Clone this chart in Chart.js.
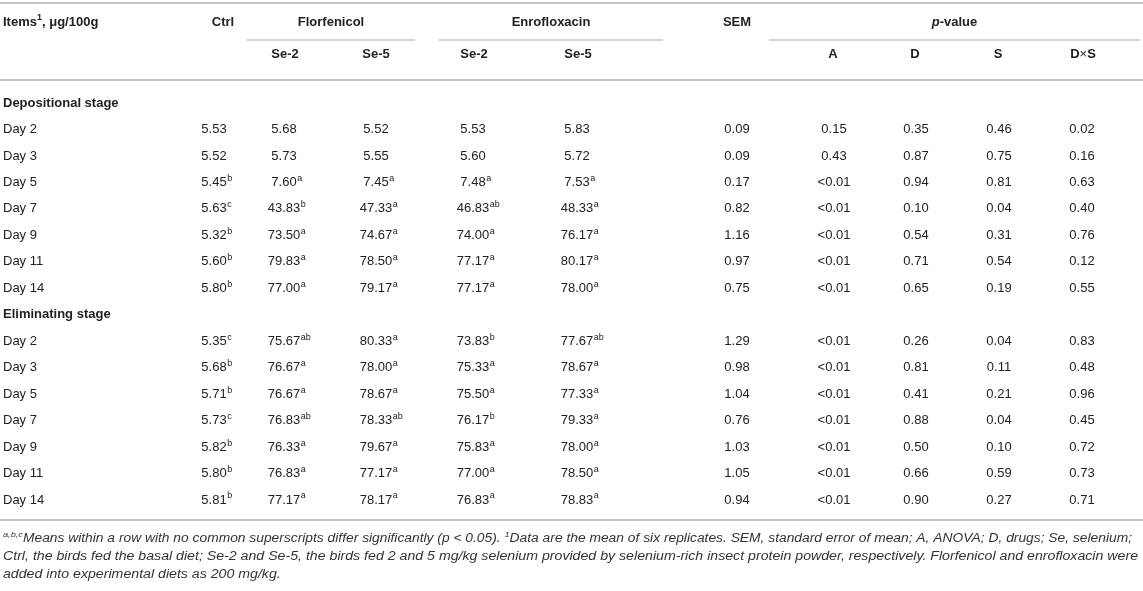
<!DOCTYPE html>
<html>
<head>
<meta charset="utf-8">
<script src="https://cdn.jsdelivr.net/npm/chart.js@4.4.0/dist/chart.umd.min.js"></script>
<style>
  html, body { margin: 0; padding: 0; background: #fff; }
  #wrap { width: 1143px; height: 591px; }
</style>
</head>
<body>
<div id="wrap"><canvas id="tableChart" width="1143" height="591"></canvas></div>
<script>
// row labels (stage rows have no values)
const rowLabels = ['Depositional stage', 'Day 2', 'Day 3', 'Day 5', 'Day 7', 'Day 9', 'Day 11', 'Day 14',
                   'Eliminating stage', 'Day 2', 'Day 3', 'Day 5', 'Day 7', 'Day 9', 'Day 11', 'Day 14'];
const stageRows = [0, 8];

// values, letter suffix = superscript
const ctrl    = ['', '5.53', '5.52', '5.45b', '5.63c', '5.32b', '5.60b', '5.80b',
                 '', '5.35c', '5.68b', '5.71b', '5.73c', '5.82b', '5.80b', '5.81b'];
const florSe2 = ['', '5.68', '5.73', '7.60a', '43.83b', '73.50a', '79.83a', '77.00a',
                 '', '75.67ab', '76.67a', '76.67a', '76.83ab', '76.33a', '76.83a', '77.17a'];
const florSe5 = ['', '5.52', '5.55', '7.45a', '47.33a', '74.67a', '78.50a', '79.17a',
                 '', '80.33a', '78.00a', '78.67a', '78.33ab', '79.67a', '77.17a', '78.17a'];
const enroSe2 = ['', '5.53', '5.60', '7.48a', '46.83ab', '74.00a', '77.17a', '77.17a',
                 '', '73.83b', '75.33a', '75.50a', '76.17b', '75.83a', '77.00a', '76.83a'];
const enroSe5 = ['', '5.83', '5.72', '7.53a', '48.33a', '76.17a', '80.17a', '78.00a',
                 '', '77.67ab', '78.67a', '77.33a', '79.33a', '78.00a', '78.50a', '78.83a'];
const sem     = ['', '0.09', '0.09', '0.17', '0.82', '1.16', '0.97', '0.75',
                 '', '1.29', '0.98', '1.04', '0.76', '1.03', '1.05', '0.94'];
const pA      = ['', '0.15', '0.43', '<0.01', '<0.01', '<0.01', '<0.01', '<0.01',
                 '', '<0.01', '<0.01', '<0.01', '<0.01', '<0.01', '<0.01', '<0.01'];
const pD      = ['', '0.35', '0.87', '0.94', '0.10', '0.54', '0.71', '0.65',
                 '', '0.26', '0.81', '0.41', '0.88', '0.50', '0.66', '0.90'];
const pS      = ['', '0.46', '0.75', '0.81', '0.04', '0.31', '0.54', '0.19',
                 '', '0.04', '0.11', '0.21', '0.04', '0.10', '0.59', '0.27'];
const pDxS    = ['', '0.02', '0.16', '0.63', '0.40', '0.76', '0.12', '0.55',
                 '', '0.83', '0.48', '0.96', '0.45', '0.72', '0.73', '0.71'];

const columns = [ctrl, florSe2, florSe5, enroSe2, enroSe5, sem, pA, pD, pS, pDxS];
const subHeaders = ['', 'Se-2', 'Se-5', 'Se-2', 'Se-5', '', 'A', 'D', 'S', 'D×S'];

const footnote = [
  [{ t: 'a,b,c', sup: true }, { t: 'Means within a row with no common superscripts differ significantly (p < 0.05). ' },
   { t: '1', sup: true }, { t: 'Data are the mean of six replicates. SEM, standard error of mean; A, ANOVA; D, drugs; Se, selenium;' }],
  [{ t: 'Ctrl, the birds fed the basal diet; Se-2 and Se-5, the birds fed 2 and 5 mg/kg selenium provided by selenium-rich insect protein powder, respectively. Florfenicol and enrofloxacin were' }],
  [{ t: 'added into experimental diets as 200 mg/kg.' }]
];

// layout (x-scale units = px)
const colX = [214, 284, 376, 473, 577, 737, 834, 916, 999, 1082];
const headX = [223, 285, 376, 474, 578, 737, 833, 915, 998, 1083];
const groups = [
  { label: 'Florfenicol', from: 247, to: 415 },
  { label: 'Enrofloxacin', from: 439, to: 663 },
  { label: 'p-value', from: 769, to: 1140, italicFirst: true }
];
const footWidths = [1132, 1138, null];
const FONT = '"Liberation Sans", Arial, Helvetica, sans-serif';
const TEXT = '#222';
const RULE = '#c4c4c4';

function font(size, bold, italic) {
  return (italic ? 'italic ' : '') + (bold ? 'bold ' : '') + size + 'px ' + FONT;
}

// draws a run of parts starting at x (left aligned), returns width
function drawParts(ctx, parts, x, y, size, bold, italic, measureOnly) {
  let cx = x;
  parts.forEach(p => {
    const s = p.sup ? Math.round(size * 0.68) : size;
    ctx.font = font(s, p.bold !== undefined ? p.bold : bold, p.italic !== undefined ? p.italic : italic);
    if (!measureOnly) ctx.fillText(p.t, cx, p.sup ? y - size * 0.32 : y);
    cx += ctx.measureText(p.t).width;
  });
  return cx - x;
}

function drawCentered(ctx, parts, x, y, size, bold, italic) {
  const w = drawParts(ctx, parts, 0, 0, size, bold, italic, true);
  drawParts(ctx, parts, x - w / 2, y, size, bold, italic, false);
}

function hLine(ctx, x1, x2, y, w) {
  ctx.strokeStyle = RULE;
  ctx.lineWidth = w;
  ctx.beginPath();
  ctx.moveTo(x1, y);
  ctx.lineTo(x2, y);
  ctx.stroke();
}

const tablePlugin = {
  id: 'tablePlugin',
  afterDraw(chart) {
    const ctx = chart.ctx;
    const xs = chart.scales.x, ys = chart.scales.y;
    const X = v => xs.getPixelForValue(v);
    ctx.save();
    ctx.fillStyle = TEXT;
    ctx.textBaseline = 'middle';
    ctx.textAlign = 'left';

    // rules
    hLine(ctx, X(0), X(1143), 3, 2);
    hLine(ctx, X(0), X(1143), 80, 2);
    hLine(ctx, X(0), X(1143), 520, 2);
    groups.forEach(g => hLine(ctx, X(g.from), X(g.to), 40, 1.5));

    // header row 1
    const h1 = 22, h2 = 54;
    drawParts(ctx, [{ t: 'Items' }, { t: '1', sup: true }, { t: ', μg/100g' }], X(3), h1, 13, true, false);
    drawCentered(ctx, [{ t: 'Ctrl' }], X(headX[0]), h1, 13, true, false);
    drawCentered(ctx, [{ t: 'SEM' }], X(headX[5]), h1, 13, true, false);
    groups.forEach(g => {
      const parts = g.italicFirst ? [{ t: 'p', italic: true }, { t: '-value' }] : [{ t: g.label }];
      drawCentered(ctx, parts, X((g.from + g.to) / 2), h1, 13, true, false);
    });
    // header row 2
    subHeaders.forEach((s, j) => {
      if (!s) return;
      if (s === 'D×S') {
        drawCentered(ctx, [{ t: 'D' }, { t: '×', bold: false }, { t: 'S' }], X(headX[j]), h2, 13, true, false);
      } else {
        drawCentered(ctx, [{ t: s }], X(headX[j]), h2, 13, true, false);
      }
    });

    // body
    rowLabels.forEach((lab, i) => {
      const y = ys.getPixelForValue(i);
      const isStage = stageRows.includes(i);
      ctx.font = font(13, isStage, false);
      ctx.fillStyle = TEXT;
      ctx.textAlign = 'left';
      ctx.fillText(lab, X(3), y);
      if (isStage) return;
      columns.forEach((col, j) => {
        const m = col[i].match(/^(.*?)([a-c]*)$/);
        const num = m[1], sup = m[2];
        ctx.font = font(13, false, false);
        const w = ctx.measureText(num).width;
        const left = X(colX[j]) - w / 2;
        ctx.fillText(num, left, y);
        if (sup) {
          ctx.font = font(9, false, false);
          ctx.fillText(sup, left + w + 0.5, y - 4);
        }
      });
    });

    // footnote, each full line fitted to the table width
    const fy = [539, 557, 575];
    ctx.fillStyle = '#333';
    let sx = 1;
    footnote.forEach((line, k) => {
      if (footWidths[k]) {
        const natural = drawParts(ctx, line, 0, 0, 12, false, true, true);
        sx = (X(footWidths[k]) - X(3)) / natural;
      }
      ctx.save();
      ctx.translate(X(3), fy[k]);
      ctx.scale(sx, 1);
      drawParts(ctx, line, 0, 0, 12, false, true, false);
      ctx.restore();
    });
    ctx.restore();
  }
};

new Chart(document.getElementById('tableChart'), {
  type: 'scatter',
  data: { labels: rowLabels, datasets: [] },
  options: {
    responsive: false,
    animation: false,
    layout: { padding: { left: 0, right: 0, top: 103, bottom: 91 } },
    plugins: { legend: { display: false }, tooltip: { enabled: false } },
    scales: {
      x: { type: 'linear', min: 0, max: 1143, display: false },
      y: { type: 'category', labels: rowLabels, offset: false, display: false }
    }
  },
  plugins: [tablePlugin]
});
</script>
</body>
</html>
